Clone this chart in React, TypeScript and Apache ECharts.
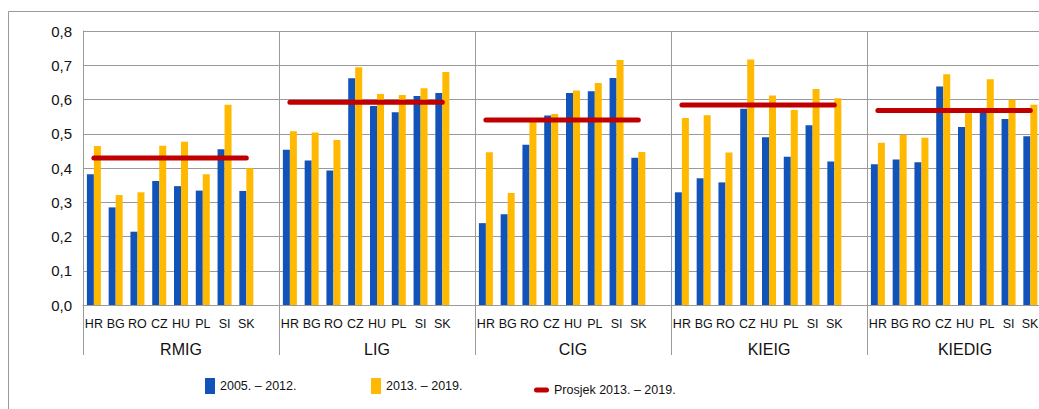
import React, { useEffect, useRef } from "react";
import * as echarts from "echarts";

const groups = ["RMIG", "LIG", "CIG", "KIEIG", "KIEDIG"];
const countries = ["HR", "BG", "RO", "CZ", "HU", "PL", "SI", "SK"];
const yTickValues = [0, 0.1, 0.2, 0.3, 0.4, 0.5, 0.6, 0.7, 0.8];

const rmig0512 = [0.382, 0.285, 0.214, 0.362, 0.347, 0.334, 0.455, 0.333];
const rmig1319 = [0.464, 0.321, 0.329, 0.465, 0.477, 0.382, 0.585, 0.399];
const lig0512 = [0.453, 0.422, 0.393, 0.662, 0.581, 0.563, 0.61, 0.619];
const lig1319 = [0.507, 0.504, 0.482, 0.694, 0.616, 0.613, 0.633, 0.68];
const cig0512 = [0.239, 0.265, 0.468, 0.553, 0.619, 0.624, 0.663, 0.43];
const cig1319 = [0.446, 0.327, 0.534, 0.558, 0.626, 0.648, 0.715, 0.447];
const kieig0512 = [0.329, 0.37, 0.358, 0.573, 0.49, 0.433, 0.525, 0.419];
const kieig1319 = [0.546, 0.554, 0.445, 0.717, 0.612, 0.569, 0.631, 0.604];
const kiedig0512 = [0.411, 0.425, 0.417, 0.638, 0.52, 0.565, 0.543, 0.493];
const kiedig1319 = [0.474, 0.497, 0.488, 0.674, 0.56, 0.659, 0.599, 0.585];
const prosjek1319 = [0.429, 0.592, 0.54, 0.584, 0.568];

const seriesNames = ["2005. – 2012.", "2013. – 2019.", "Prosjek 2013. – 2019."];

const FONT = "'Liberation Sans', Arial, sans-serif";
const GRID_COLOR = "#9a9a9a";
const CAT_FONT_SIZE = 12.5;
const CAT_LABEL_MARGIN = 12;

export default function App() {
  const ref = useRef<HTMLDivElement>(null);
  useEffect(() => {
    if (!ref.current) return;
    const chart = echarts.init(ref.current, null, { renderer: "svg" });
    const slot = countries.length + 1; // 8 countries + one empty slot per group
    const cats: string[] = [];
    groups.forEach((g) => {
      countries.forEach((c) => cats.push(g + "|" + c));
      cats.push(g + "|");
    });
    const lastCatIndex = (groups.length - 1) * slot + countries.length - 1;
    const lastCat = cats[lastCatIndex];
    const withGap = (arrs: number[][]) => {
      const out: (number | string)[] = [];
      arrs.forEach((a) => {
        a.forEach((v) => out.push(v));
        out.push("-");
      });
      return out;
    };
    const blue = withGap([rmig0512, lig0512, cig0512, kieig0512, kiedig0512]);
    const orange = withGap([rmig1319, lig1319, cig1319, kieig1319, kiedig1319]);
    const avgLine = withGap(prosjek1319.map((a) => countries.map(() => a)));
    const legendText = { fontFamily: FONT, fontSize: 12.5, color: "#111" };
    const gridTop = 31;
    const gridHeight = 274;
    chart.setOption({
      animation: false,
      grid: { left: 83, top: gridTop, height: gridHeight, width: 980, containLabel: false, outerBoundsMode: "none" },
      legend: [
        {
          data: [{ name: seriesNames[0], icon: "rect" }],
          left: 205, top: 378, padding: 0, itemWidth: 10, itemHeight: 16, itemGap: 0,
          textStyle: legendText, selectedMode: false,
        },
        {
          data: [{ name: seriesNames[1], icon: "rect" }],
          left: 371, top: 378, padding: 0, itemWidth: 10, itemHeight: 16, itemGap: 0,
          textStyle: legendText, selectedMode: false,
        },
        {
          data: [{ name: seriesNames[2], icon: "path://M2.5,0H12.5A2.5,2.5,0,0,1,12.5,5H2.5A2.5,2.5,0,0,1,2.5,0Z" }],
          left: 534, top: 383.5, padding: 0, itemWidth: 15, itemHeight: 5, itemGap: 0,
          textStyle: legendText, selectedMode: false,
        },
      ],
      graphic: [
        {
          type: "rect",
          id: "frame",
          shape: { x: 8.5, y: 11.5, width: 1200, height: 600 },
          style: { fill: "none", stroke: "#999", lineWidth: 1 },
          silent: true,
          z: -10,
        },
      ],
      xAxis: [
        {
          type: "category",
          data: cats,
          position: "bottom",
          axisLine: { show: true, lineStyle: { color: GRID_COLOR } },
          axisTick: {
            show: true,
            interval: (i: number) => i % slot === 0,
            length: 50,
            lineStyle: { color: GRID_COLOR },
          },
          splitLine: {
            show: true,
            interval: (i: number) => i % slot === 0,
            lineStyle: { color: GRID_COLOR },
          },
          axisLabel: {
            interval: 0,
            margin: CAT_LABEL_MARGIN,
            hideOverlap: false,
            fontFamily: FONT,
            fontSize: CAT_FONT_SIZE,
            color: "#111",
            // the last label, at the chart's cut-off right edge, is drawn below as a graphic text
            formatter: (v: string) => (v === lastCat ? "" : v.split("|")[1]),
          },
        },
        {
          type: "category",
          data: groups,
          position: "bottom",
          axisLine: { show: false },
          axisTick: { show: false },
          splitLine: { show: false },
          axisLabel: { interval: 0, margin: 36, fontFamily: FONT, fontSize: 16, color: "#111" },
        },
      ],
      yAxis: {
        type: "value",
        min: yTickValues[0],
        max: yTickValues[yTickValues.length - 1],
        interval: 0.1,
        axisLine: { show: true, lineStyle: { color: GRID_COLOR } },
        axisTick: { show: false },
        splitLine: { show: true, lineStyle: { color: GRID_COLOR } },
        axisLabel: {
          margin: 11,
          fontFamily: FONT,
          fontSize: 15,
          color: "#111",
          formatter: (v: number) => v.toFixed(1).replace(".", ","),
        },
      },
      series: [
        {
          type: "bar",
          name: seriesNames[0],
          data: blue,
          barWidth: 7,
          barGap: "0%",
          itemStyle: { color: "#1153B9" },
        },
        {
          type: "bar",
          name: seriesNames[1],
          data: orange,
          barWidth: 7,
          barGap: "0%",
          itemStyle: { color: "#FFB900" },
        },
        {
          type: "line",
          name: seriesNames[2],
          data: avgLine,
          connectNulls: false,
          symbol: "none",
          color: "#C00000",
          itemStyle: { color: "#C00000" },
          lineStyle: { color: "#C00000", width: 5, cap: "round" },
          z: 5,
        },
      ],
    });
    const px = chart.convertToPixel({ xAxisIndex: 0 }, lastCatIndex as any) as unknown as number;
    if (typeof px === "number" && isFinite(px)) {
      chart.setOption({
        graphic: [
          {
            type: "text",
            id: "lastCatLabel",
            x: Math.min(px, 1039 - 9),
            y: gridTop + gridHeight + CAT_LABEL_MARGIN,
            silent: true,
            style: {
              text: countries[countries.length - 1],
              font: `${CAT_FONT_SIZE}px ${FONT}`,
              fill: "#111",
              textAlign: "center",
              textVerticalAlign: "top",
            },
          },
        ],
      });
    }
    return () => chart.dispose();
  }, []);
  return (
    <div
      ref={ref}
      style={{ position: "absolute", left: 0, top: 0, width: 1039, height: 409, overflow: "hidden" }}
    />
  );
}
